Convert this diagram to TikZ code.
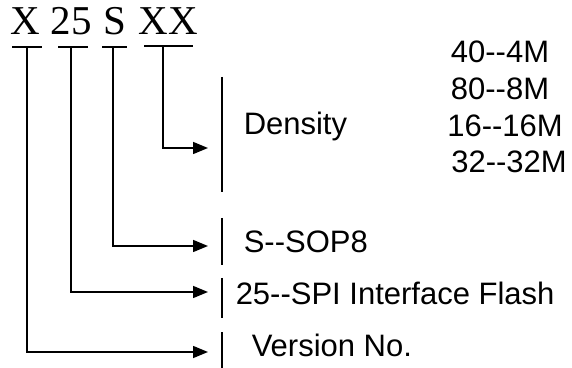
\documentclass[tikz,border=0pt]{standalone}
\usepackage{fontspec}
\setmainfont{Liberation Sans}
\newfontfamily\partfont{Liberation Serif}
\usetikzlibrary{arrows.meta}

\begin{document}
\begin{tikzpicture}[x=0.5pt,y=-0.5pt,line width=0.75pt,
    part/.style={font=\partfont\fontsize{20.5}{24}\selectfont,inner sep=0pt,anchor=base},
    desc/.style={font=\fontsize{15.5}{18}\selectfont,inner sep=0pt,anchor=base west},
    size/.style={font=\fontsize{15.5}{18}\selectfont,inner sep=0pt,anchor=base},
    lead/.style={-{Triangle[length=7.5pt,width=6pt]}}]
  \useasboundingbox (0,0) rectangle (572,368);
  % part number
  \node[part] (ver) at (25,35) {X};
  \node[part] (ifc) at (71,35) {25};
  \node[part] (pkg) at (115,35) {S};
  \node[part] (den) at (168.5,35) {XX};
  % bars under the parts
  \draw (12,47) -- (42,47);
  \draw (58,47) -- (88,47);
  \draw (102,47) -- (127,47);
  \draw (144,46) -- (193,46);
  \coordinate (verbar) at (27,47);
  \coordinate (ifcbar) at (71,47);
  \coordinate (pkgbar) at (113,47);
  \coordinate (denbar) at (163,46);
  % arrow ends
  \coordinate (denend) at (208,148);
  \coordinate (pkgend) at (208,246);
  \coordinate (ifcend) at (208,292);
  \coordinate (verend) at (208,352);
  \draw[lead] (denbar) |- (denend);
  \draw[lead] (pkgbar) |- (pkgend);
  \draw[lead] (ifcbar) |- (ifcend);
  \draw[lead] (verbar) |- (verend);
  % separators
  \draw (222,77) -- (222,192);
  \draw (222,218) -- (222,265);
  \draw (222,278) -- (222,318);
  \draw (222,332) -- (222,368);
  % descriptions
  \node[desc] (dentxt) at (243,135) {Density};
  \node[desc] (pkgtxt) at (243,253) {S-{}-SOP8};
  \node[desc] (ifctxt) at (235,305) {25-{}-SPI Interface Flash};
  \node[desc] (vertxt) at (251,357) {Version No.};
  \node[size] (s4) at (500,63) {40-{}-4M};
  \node[size] (s8) at (500,100) {80-{}-8M};
  \node[size] (s16) at (505,137) {16-{}-16M};
  \node[size] (s32) at (509,173) {32-{}-32M};
\end{tikzpicture}
\end{document}
